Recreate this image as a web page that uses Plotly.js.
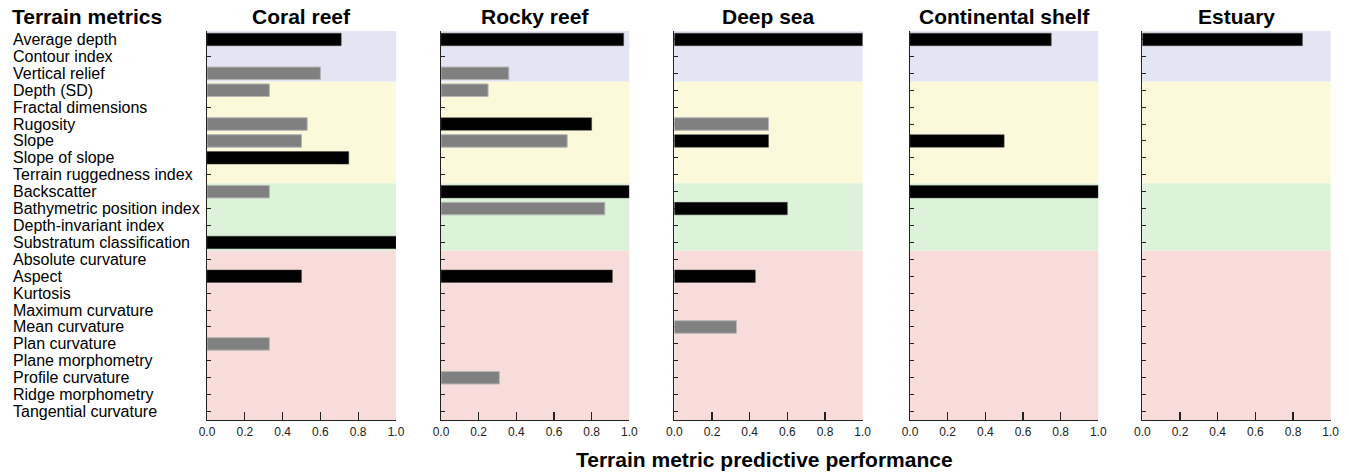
<!DOCTYPE html>
<html><head><meta charset="utf-8">
<script src="https://cdn.plot.ly/plotly-3.0.1.min.js"></script>
<style>html,body{margin:0;padding:0;background:#fff}#chart{width:1349px;height:475px}</style>
</head><body><div id="chart"></div>
<script>
const metrics = ["Average depth","Contour index","Vertical relief","Depth (SD)","Fractal dimensions","Rugosity","Slope","Slope of slope","Terrain ruggedness index","Backscatter","Bathymetric position index","Depth-invariant index","Substratum classification","Absolute curvature","Aspect","Kurtosis","Maximum curvature","Mean curvature","Plan curvature","Plane morphometry","Profile curvature","Ridge morphometry","Tangential curvature"];
const habitats = ["Coral reef","Rocky reef","Deep sea","Continental shelf","Estuary"];
// values aligned with metrics (null = not reported); "Black" = top metrics, "Gray" = other metrics
const coralBlack = [0.71,null,null,null,null,null,null,0.75,null,null,null,null,1.0,null,0.50,null,null,null,null,null,null,null,null];
const coralGray  = [null,null,0.60,0.33,null,0.53,0.50,null,null,0.33,null,null,null,null,null,null,null,null,0.33,null,null,null,null];
const rockyBlack = [0.97,null,null,null,null,0.80,null,null,null,1.0,null,null,null,null,0.91,null,null,null,null,null,null,null,null];
const rockyGray  = [null,null,0.36,0.25,null,null,0.67,null,null,null,0.87,null,null,null,null,null,null,null,null,null,0.31,null,null];
const deepBlack  = [1.0,null,null,null,null,null,0.50,null,null,null,0.60,null,null,null,0.43,null,null,null,null,null,null,null,null];
const deepGray   = [null,null,null,null,null,0.50,null,null,null,null,null,null,null,null,null,null,null,0.33,null,null,null,null,null];
const shelfBlack = [0.75,null,null,null,null,null,0.50,null,null,1.0,null,null,null,null,null,null,null,null,null,null,null,null,null];
const shelfGray  = [null,null,null,null,null,null,null,null,null,null,null,null,null,null,null,null,null,null,null,null,null,null,null];
const estuaryBlack = [0.85,null,null,null,null,null,null,null,null,null,null,null,null,null,null,null,null,null,null,null,null,null,null];
const estuaryGray  = [null,null,null,null,null,null,null,null,null,null,null,null,null,null,null,null,null,null,null,null,null,null,null];
const groupSizes = [3,6,4,10];
const groupColors = ["#e3e6f2","#fcf9db","#dcf3da","#f8dcd9"];
const xTickVals = [0,0.2,0.4,0.6,0.8,1.0];
const xTickText = ["0.0","0.2","0.4","0.6","0.8","1.0"];

const blackSets = [coralBlack,rockyBlack,deepBlack,shelfBlack,estuaryBlack];
const graySets = [coralGray,rockyGray,deepGray,shelfGray,estuaryGray];
const domains = [[0,0.16815],[0.20819,0.37571],[0.41575,0.58336],[0.62544,0.79297],[0.83212,0.99973]];
const FONT = "Arial, 'Liberation Sans', sans-serif";

const traces = [];
const layout = {
  width:1349, height:475,
  margin:{l:207,r:18,t:31,b:55},
  paper_bgcolor:"#fff", plot_bgcolor:"rgba(0,0,0,0)",
  showlegend:false, barmode:"overlay", bargap:0.26,
  font:{family:FONT,color:"#111"},
  shapes:[], annotations:[]
};
habitats.forEach((h,i)=>{
  const n = i===0 ? "" : String(i+1);
  const xa = "x"+n, ya = "y"+n;
  traces.push({type:"bar",orientation:"h",x:blackSets[i],y:metrics,xaxis:xa,yaxis:ya,
    marker:{color:"#000",line:{color:"#444",width:0.5}},hoverinfo:"x+y"});
  traces.push({type:"bar",orientation:"h",x:graySets[i],y:metrics,xaxis:xa,yaxis:ya,
    marker:{color:"#808080",line:{color:"#b5b5b5",width:1}},hoverinfo:"x+y"});
  layout["xaxis"+n] = {domain:domains[i],anchor:ya,range:[0,1],tickvals:xTickVals,ticktext:xTickText,
    ticks:"inside",ticklen:8,tickwidth:1.3,tickcolor:"#222",showline:true,linecolor:"#222",linewidth:1.3,
    showgrid:false,zeroline:false,tickfont:{size:12,color:"#222",family:FONT},fixedrange:true};
  layout["yaxis"+n] = {anchor:xa,type:"category",categoryorder:"array",categoryarray:metrics,
    range:[metrics.length-0.5,-0.5],ticks:"inside",ticklen:4,tickwidth:1,tickcolor:"#222",
    showticklabels:false,showline:true,linecolor:"#222",linewidth:1.3,showgrid:false,zeroline:false,
    layer:"below traces",fixedrange:true};
  let start = 0;
  groupSizes.forEach((g,k)=>{
    layout.shapes.push({type:"rect",layer:"below",xref:xa+" domain",yref:ya,x0:0,x1:1,
      y0:start-0.5,y1:start+g-0.5,fillcolor:groupColors[k],line:{width:0}});
    start += g;
  });
  layout.annotations.push({xref:xa+" domain",yref:"paper",x:0.5,y:1.036,xanchor:"center",yanchor:"middle",
    text:"<b>"+h+"</b>",showarrow:false,font:{size:21,color:"#000",family:FONT}});
});
layout.annotations.push({xref:"paper",yref:"paper",x:-0.1753,y:1.036,xanchor:"left",yanchor:"middle",
  text:"<b>Terrain metrics</b>",showarrow:false,font:{size:21,color:"#000",family:FONT}});
metrics.forEach(m=>{
  layout.annotations.push({xref:"paper",yref:"y",x:-0.1744,y:m,xanchor:"left",yanchor:"middle",
    text:m,showarrow:false,font:{size:16,color:"#000",family:FONT}});
});
layout.annotations.push({xref:"paper",yref:"paper",x:0.4956,y:-0.1028,xanchor:"center",yanchor:"middle",
  text:"<b>Terrain metric predictive performance</b>",showarrow:false,font:{size:21,color:"#000",family:FONT}});

Plotly.newPlot("chart",traces,layout,{displayModeBar:false,staticPlot:true});
</script></body></html>
